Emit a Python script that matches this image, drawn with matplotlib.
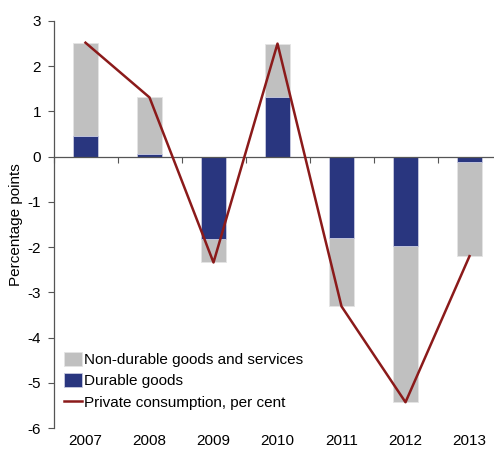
import matplotlib.pyplot as plt
import numpy as np

plt.rcParams['font.family'] = ['Liberation Sans', 'DejaVu Sans']
plt.rcParams['axes.unicode_minus'] = False

years = ['2007', '2008', '2009', '2010', '2011', '2012', '2013']
durable = [0.46, 0.06, -1.83, 1.33, -1.79, -1.97, -0.11]
non_durable = [2.06, 1.25, -0.51, 1.16, -1.51, -3.46, -2.09]
private_consumption = [2.52, 1.31, -2.34, 2.50, -3.31, -5.43, -2.20]

grey = '#c0c0c0'
blue = '#29367f'
red = '#8b1a1a'

fig = plt.figure(figsize=(4.94, 4.54), dpi=100)
ax = fig.add_axes([53.5 / 494, 1 - 428 / 454, 448 / 494, 407 / 454])

x = np.arange(len(years))
b1 = ax.bar(x, non_durable, 0.4, bottom=durable, color=grey, edgecolor='#e4e4e4',
            linewidth=0.6, label='Non-durable goods and services', zorder=2)
b2 = ax.bar(x, durable, 0.4, color=blue, edgecolor='#c8cbe0', linewidth=0.6,
            label='Durable goods', zorder=2)
ln, = ax.plot(x, private_consumption, color=red, linewidth=1.8,
              label='Private consumption, per cent', zorder=3)

ax.set_xlim(-0.5, 6.5)
ax.set_ylim(-6, 3)
ax.set_yticks(range(-6, 4))
ax.tick_params(axis='y', direction='out', length=4, width=0.8, pad=5,
               labelsize=11, colors='#555555', labelcolor='black')

# category boundaries on the zero line, year labels along the bottom
ax.spines['bottom'].set_position(('data', 0))
ax.set_xticks(np.arange(-0.5, 7, 1))
ax.set_xticklabels([])
ax.tick_params(axis='x', direction='out', length=4, width=0.8, colors='#555555')
for xi, yr in zip(x, years):
    ax.text(xi, -0.032, yr, transform=ax.get_xaxis_transform(),
            ha='center', va='center', fontsize=11)

for side in ['top', 'right']:
    ax.spines[side].set_visible(False)
for side in ['left', 'bottom']:
    ax.spines[side].set_color('#555555')
    ax.spines[side].set_linewidth(0.9)

ax.set_ylabel('Percentage points', fontsize=11, labelpad=3)

ax.legend([b1, b2, ln], [b1.get_label(), b2.get_label(), ln.get_label()],
          loc='lower left', bbox_to_anchor=(0.01, 0.03), frameon=False,
          fontsize=11, handlelength=1.2, handleheight=1.0,
          handletextpad=0.1, labelspacing=0.4, borderaxespad=0)

fig.savefig('out.png', dpi=100)
